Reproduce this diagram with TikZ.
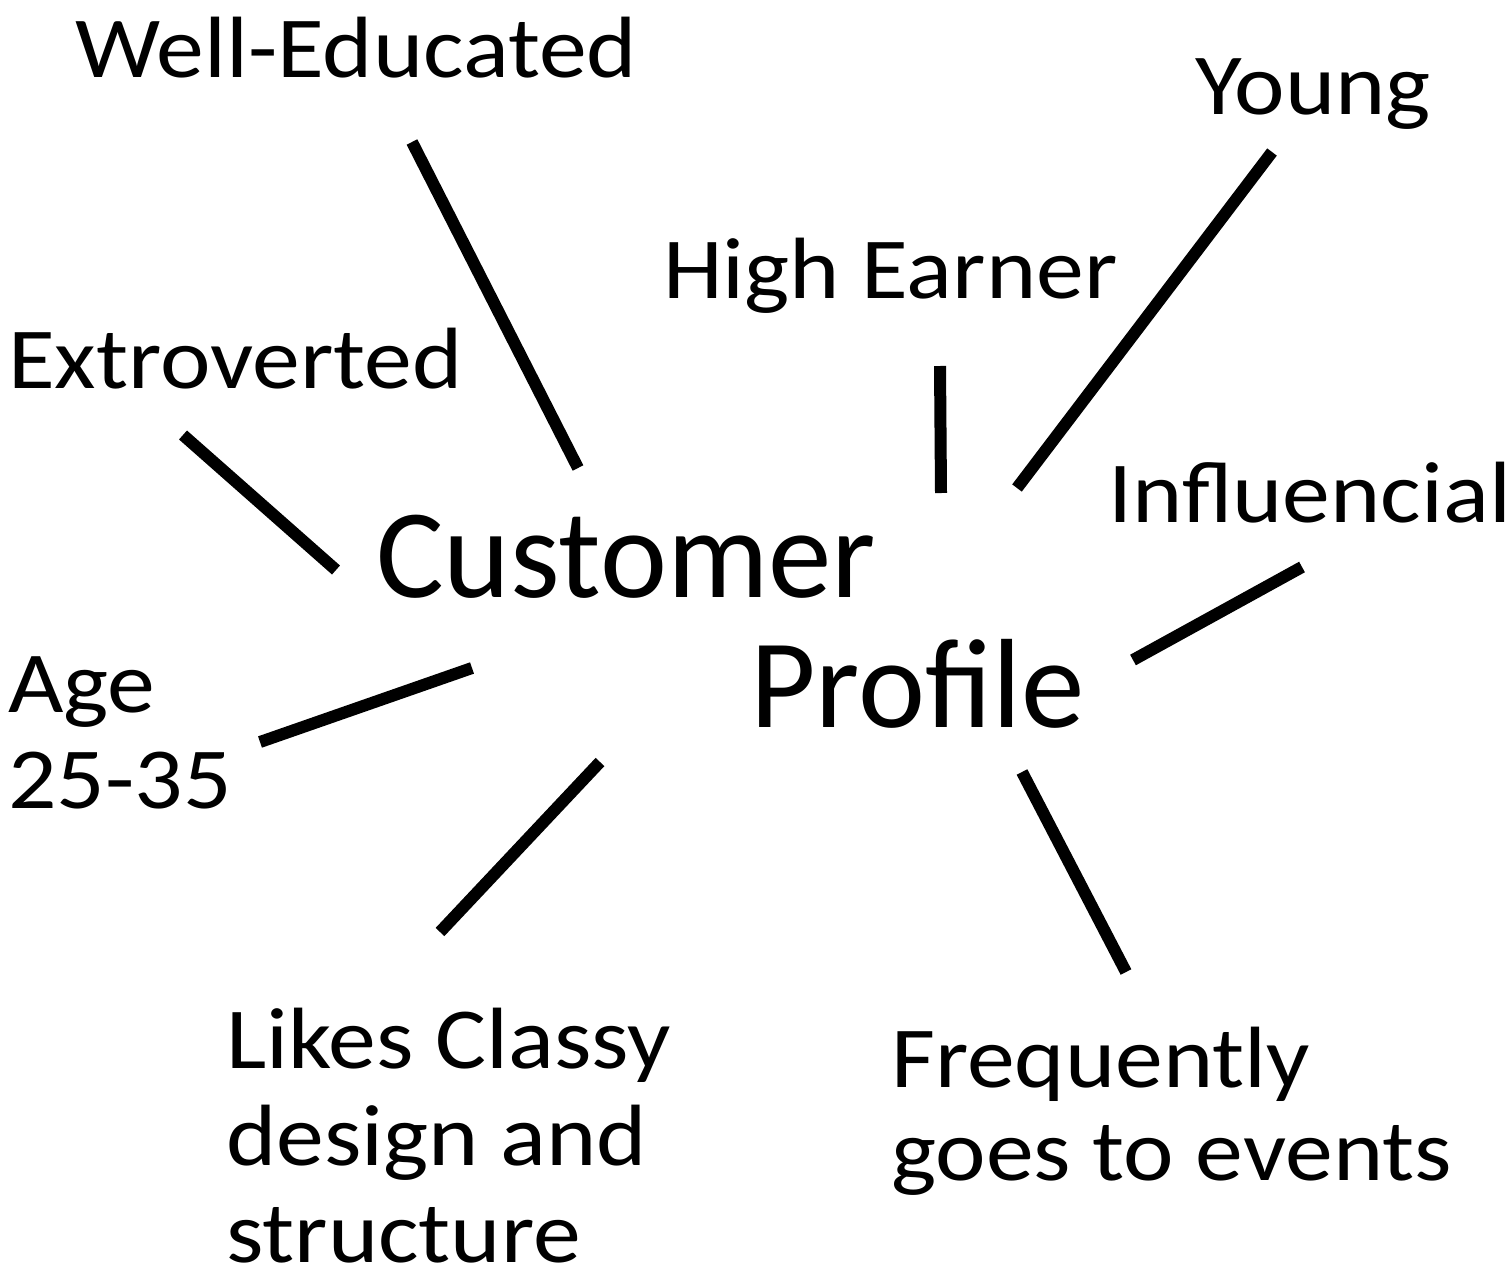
\documentclass[tikz,border=0pt]{standalone}
\usepackage{fontspec}
\setmainfont{Carlito}
\newfontfamily\lblfont{Carlito}[FakeStretch=1.1]
\begin{document}
\begin{tikzpicture}[x=1pt,y=-1pt,
  lbl/.style={anchor=base west,inner sep=0pt,align=left,font=\lblfont\fontsize{87}{96}\selectfont},
  big/.style={anchor=base west,inner sep=0pt,font=\fontsize{127}{130}\selectfont},
  spoke/.style={line width=12pt}]
\useasboundingbox[fill=white] (0,0) rectangle (1511,1281);
\node[lbl] (we) at (75,78) {Well-Educated};
\node[lbl] (yo) at (1195,115) {Young};
\node[lbl] (he) at (663,298) {High Earner};
\node[lbl] (ex) at (8,388) {Extroverted};
\node[lbl] (in) at (1108,522) {Influencial};
\node[big] (cu) at (376,597) {Customer};
\node[big] (pr) at (750,727) {Profile};
\node[lbl] (ag) at (8,808) {Age\\25-35};
\node[lbl,font=\lblfont\fontsize{87}{97}\selectfont] (li) at (226,1262) {Likes Classy\\design and\\structure};
\node[lbl,font=\lblfont\fontsize{87}{93}\selectfont] (fr) at (891,1180) {Frequently\\goes to events};
\coordinate (a1) at (412,142); \coordinate (a2) at (578,468);
\coordinate (b1) at (183,435); \coordinate (b2) at (336,570);
\coordinate (c1) at (260,742); \coordinate (c2) at (472,668);
\coordinate (d1) at (440,932); \coordinate (d2) at (600,762);
\coordinate (e1) at (1022,772); \coordinate (e2) at (1126,972);
\coordinate (f1) at (1133,660); \coordinate (f2) at (1302,567);
\coordinate (g1) at (1017,488); \coordinate (g2) at (1272,152);
\coordinate (h1) at (940,366); \coordinate (h2) at (941,493);
\foreach \p in {a,b,c,d,e,f,g,h}{\draw[spoke] (\p1) -- (\p2);}
\end{tikzpicture}
\end{document}
